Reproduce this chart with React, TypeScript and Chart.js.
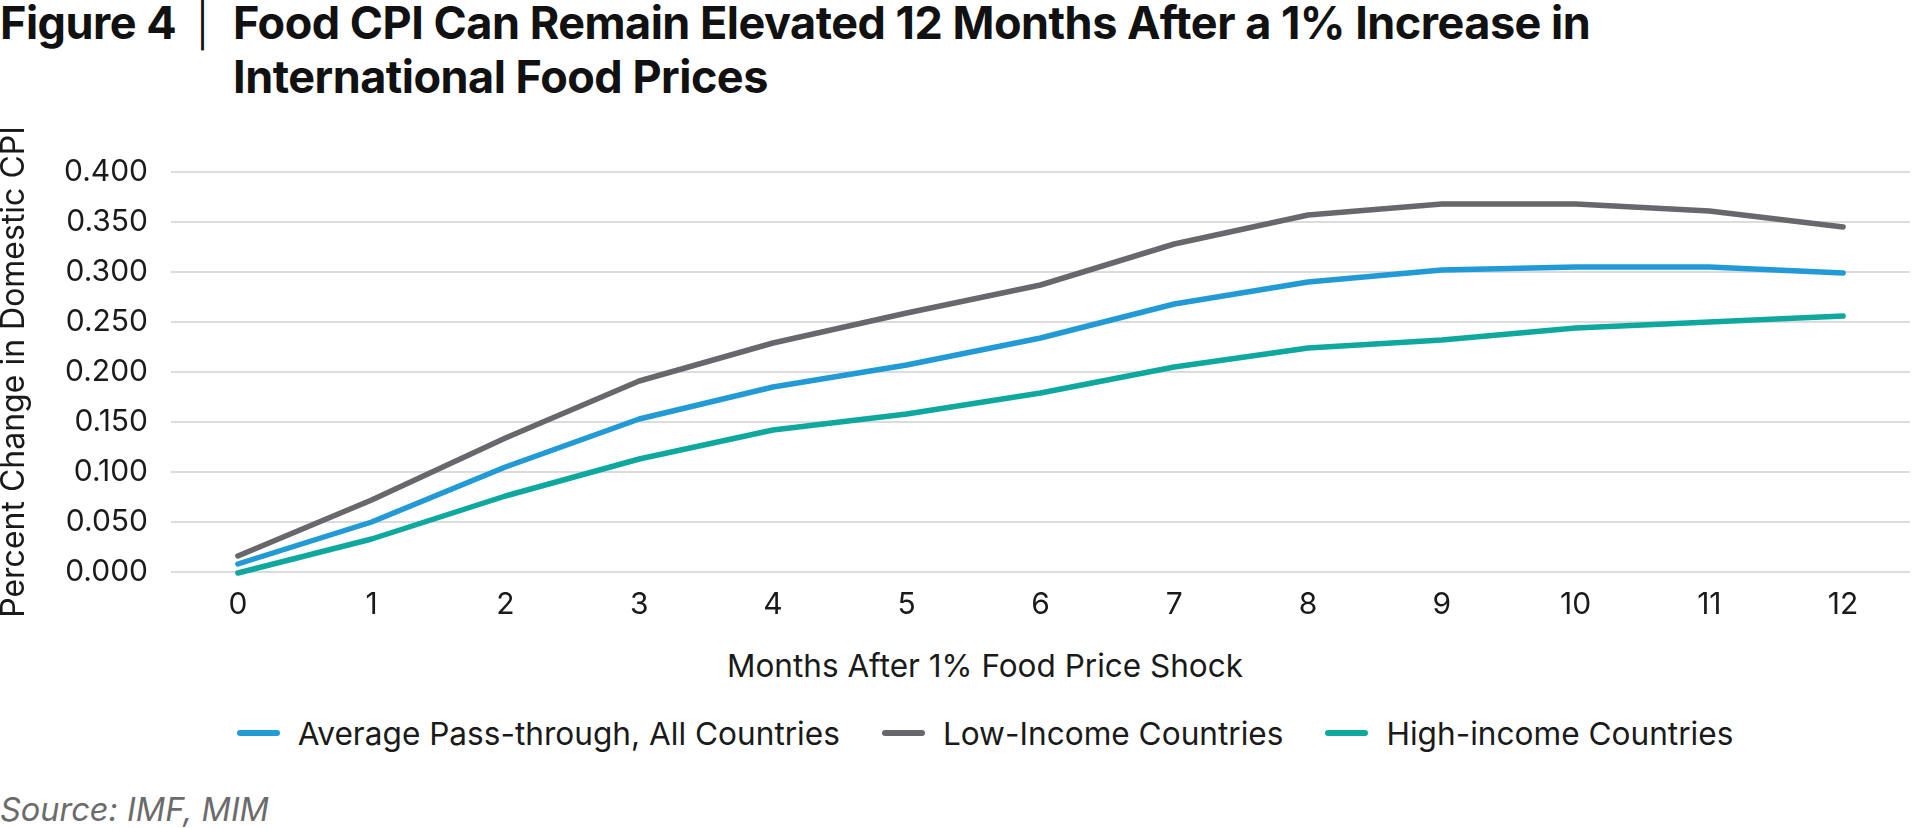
import React, { useEffect, useRef } from "react";
import { Chart, registerables } from "chart.js";

Chart.register(...registerables);

// ---- Data ----
const months = ["0", "1", "2", "3", "4", "5", "6", "7", "8", "9", "10", "11", "12"];
const avgPassThrough = [0.008, 0.05, 0.105, 0.153, 0.185, 0.207, 0.234, 0.268, 0.29, 0.302, 0.305, 0.305, 0.299];
const lowIncome = [0.016, 0.072, 0.134, 0.191, 0.229, 0.259, 0.287, 0.328, 0.357, 0.368, 0.368, 0.361, 0.345];
const highIncome = [-0.001, 0.033, 0.076, 0.113, 0.142, 0.158, 0.179, 0.205, 0.224, 0.232, 0.244, 0.25, 0.256];
const seriesNames = ["Average Pass-through, All Countries", "Low-Income Countries", "High-income Countries"];
const seriesColors = ["#229AD6", "#68686C", "#0FA89E"];
const yMin = 0;
const yMax = 0.4;
const yStep = 0.05;

const titleLine1 = "Food CPI Can Remain Elevated 12 Months After a 1% Increase in";
const titleLine2 = "International Food Prices";
const xTitle = "Months After 1% Food Price Shock";
const yTitle = "Percent Change in Domestic CPI";
const source = "Source: IMF, MIM";

const FONT = "Inter, 'Noto Sans', sans-serif";
const TEXT = "#1a1a1a";

export default function App() {
  const ref = useRef<HTMLCanvasElement>(null);

  useEffect(() => {
    if (!ref.current) return;
    const values = [avgPassThrough, lowIncome, highIncome];
    const chart = new Chart(ref.current, {
      type: "line",
      data: {
        labels: months,
        datasets: values.map((v, i) => ({
          label: seriesNames[i],
          data: v,
          borderColor: seriesColors[i],
          backgroundColor: seriesColors[i],
          borderWidth: 5.5,
          pointRadius: 0,
          tension: 0,
          clip: false as any,
          borderCapStyle: "round" as const,
          borderJoinStyle: "round" as const,
        })),
      },
      options: {
        animation: false,
        responsive: false,
        maintainAspectRatio: false,
        devicePixelRatio: 1,
        layout: { padding: { top: 72, right: 3, bottom: 0, left: 0 } },
        plugins: {
          legend: { display: false },
          tooltip: { enabled: false },
        },
        scales: {
          x: {
            offset: true,
            grid: { display: false, drawTicks: false },
            border: { display: false },
            ticks: {
              color: TEXT,
              padding: 15,
              font: { family: FONT, size: 30 },
              maxRotation: 0,
              autoSkip: false,
            },
          },
          y: {
            min: yMin,
            max: yMax,
            border: { display: false },
            grid: { color: "#dcdcdc", lineWidth: 2, drawTicks: false },
            ticks: {
              stepSize: yStep,
              color: TEXT,
              padding: 23,
              font: { family: FONT, size: 30 },
              callback: (v: any) => Number(v).toFixed(3),
            },
            title: {
              display: true,
              text: yTitle,
              color: TEXT,
              padding: 0,
              font: { family: FONT, size: 32, lineHeight: 0.9 },
            },
            afterFit: (scale: any) => {
              scale.width = 171;
            },
          },
        },
      },
    });
    return () => chart.destroy();
  }, []);

  return (
    <div style={{ position: "absolute", left: 0, top: 0, width: 1913, height: 828, background: "#fff", fontFamily: FONT, color: TEXT, overflow: "hidden" }}>
      <div style={{ position: "absolute", left: 0, top: -4, fontWeight: 700, fontSize: 45, lineHeight: "54px", letterSpacing: "-0.5px", color: "#111", display: "flex", whiteSpace: "nowrap" }}>
        <div style={{ width: 233, position: "relative", flex: "none" }}>
          Figure 4
          <span style={{ position: "absolute", left: 195, top: -1, fontWeight: 300, fontSize: 48 }}>|</span>
        </div>
        <div>
          {titleLine1}
          <br />
          {titleLine2}
        </div>
      </div>

      <canvas ref={ref} width={1913} height={538} style={{ position: "absolute", left: 0, top: 100, width: 1913, height: 538 }} />

      <div style={{ position: "absolute", left: 0, width: 1970, top: 645, height: 40, display: "flex", justifyContent: "center", alignItems: "center", fontSize: 31.5, whiteSpace: "nowrap" }}>
        {xTitle}
      </div>

      <div style={{ position: "absolute", left: 0, width: 1970, top: 712, height: 42, display: "flex", justifyContent: "center", alignItems: "center", fontSize: 31.6, whiteSpace: "nowrap", gap: 42 }}>
        {seriesNames.map((n, i) => (
          <div key={n} style={{ display: "flex", alignItems: "center" }}>
            <span style={{ display: "inline-block", width: 43, height: 6, borderRadius: 3, background: seriesColors[i], marginRight: 18 }} />
            <span>{n}</span>
          </div>
        ))}
      </div>

      <div style={{ position: "absolute", left: 0, top: 790, height: 40, lineHeight: "40px", fontSize: 32.5, fontStyle: "italic", color: "#6b6b6b", whiteSpace: "nowrap" }}>
        {source}
      </div>
    </div>
  );
}
